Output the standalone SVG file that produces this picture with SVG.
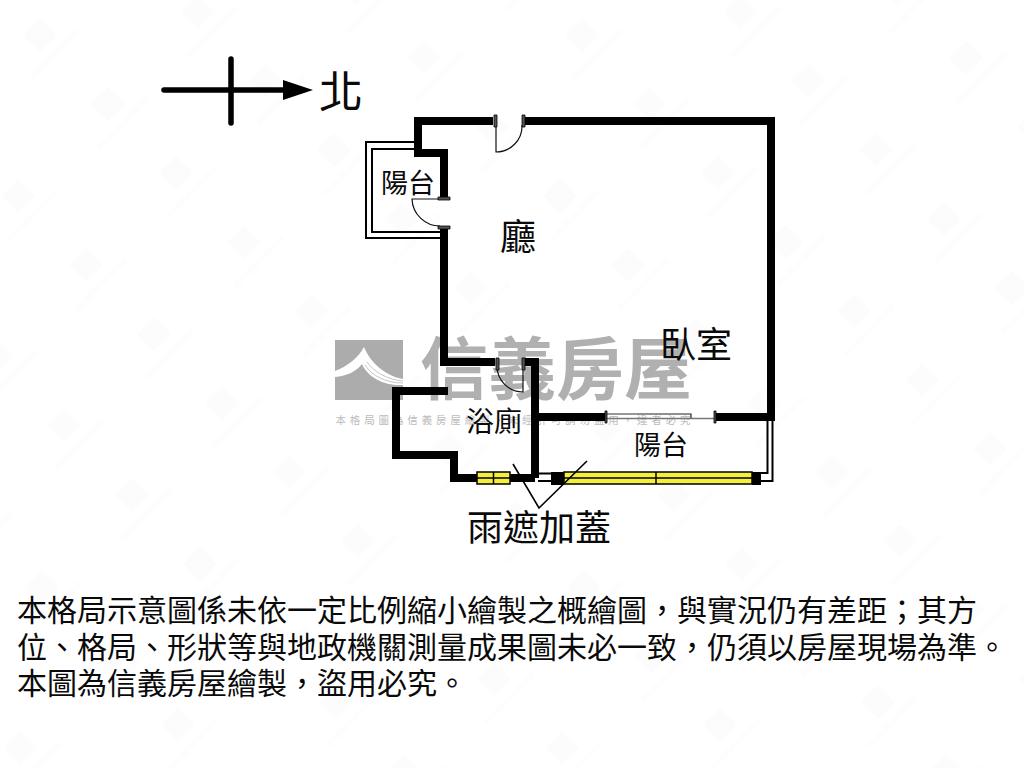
<svg xmlns="http://www.w3.org/2000/svg" width="1024" height="768" viewBox="0 0 1024 768">
<style>
text{font-family:"Noto Sans CJK TC","Noto Sans CJK SC",sans-serif;fill:#0a0a0a;text-anchor:middle}
.wall{fill:none;stroke:#000;stroke-width:8;stroke-linejoin:miter;stroke-linecap:butt}
.thin{fill:none;stroke:#000;stroke-width:2}
.door{fill:none;stroke:#111;stroke-width:1.2}
.jamb{fill:#555;stroke:#000;stroke-width:.8}
.win{fill:#f4ee3c;stroke:#000;stroke-width:1.5}
.para{text-anchor:start;font-size:30px}
</style>
<defs>
<pattern id="wm" x="0" y="0" width="1" height="1" patternUnits="userSpaceOnUse" patternTransform="matrix(158 -23 68 69 -62.8 22.35)">
<g transform="translate(.5 .35) matrix(.005535 .001845 -.005455 .012675 0 0)">
<path d="M0-17 17 0 0 17-17 0Z" fill="#fcfcfc"/>
<path d="M37-7 41-3-7 46-11 42Z" fill="#fdfdfd"/>
</g>
</pattern>
</defs>
<rect width="1024" height="768" fill="#fff"/>
<rect width="1024" height="768" fill="url(#wm)"/>
<g id="watermark">
<rect x="335" y="340" width="68" height="60" fill="#acacac"/>
<path d="M335 371C348 366 358 358 364 347 370 362 385 376 403 379V385C385 386 368 378 362 364 356 372 346 376 335 377Z" fill="#fff"/>
<path d="M367 362C374 372 388 380 403 381M365 365C372 376 386 383 403 383" fill="none" stroke="#acacac" stroke-width=".7"/>
<text x="556" y="394" font-size="68" style="fill:#b0b0b0" font-weight="700" textLength="272" lengthAdjust="spacing">信義房屋</text>
<text x="513" y="424" font-size="10.5" style="fill:#bbb" textLength="355" lengthAdjust="spacing">本格局圖為信義房屋繪製&#xFF0C;未經許可請勿盜用&#xFF0C;違者必究</text>
</g>
<g id="compass">
<path d="M164 90H285M231 59V123" fill="none" stroke="#000" stroke-width="5.500" stroke-linecap="round"/>
<path d="M283 80 313 90 283 100Z" fill="#000"/>
<text x="341" y="108" font-size="44">北</text>
</g>
<g id="balcony-west">
<path class="thin" d="M414 142H366V238H440M414 149H372V232H440"/>
<text x="408" y="193" font-size="27">陽台</text>
</g>
<g id="living-room">
<path class="wall" d="M493 121H418V153H444V198M444 228V362H495M525 121H771V417H715M606 417H535"/>
<path class="wall" d="M448 391H396V455H454V478H535M525 362H535V478"/>
<path d="M606 414H637M606 418.500H715" fill="none" stroke="#777" stroke-width="1.500"/>
<path d="M637 414H691V418" fill="none" stroke="#222" stroke-width="1.200"/>
<text x="518" y="250" font-size="36">廳</text>
<text x="696" y="358" font-size="36">臥室</text>
</g>
<g id="doors">
<path class="door" d="M496 125V152A26 26 0 0 0 522 125M440 199H412A28 28 0 0 0 440 226M523 366V392A26 26 0 0 1 497 366"/>
<path class="jamb" d="M494 115h3v12h-3zM522 115h3v12h-3zM438 197h12v3h-12zM438 226h12v3h-12zM496 358h3v12h-3zM522 358h3v12h-3zM605 411h2v12h-2zM714 411h2v12h-2z"/>
</g>
<g id="bathroom">
<rect class="win" x="477" y="472" width="33" height="12"/>
<path d="M477 478H510M493.500 472V484" stroke="#000" stroke-width="1.500"/>
<text x="494" y="432" font-size="28">浴廁</text>
</g>
<g id="balcony-east">
<path class="thin" d="M538 473.500H551M538 481H551M767.500 420V473H761M772.500 420V481H761"/>
<rect class="win" x="564" y="472" width="188" height="12"/>
<path d="M564 478H752M656 472V484" stroke="#000" stroke-width="1.500"/>
<rect x="551" y="472" width="13" height="13" fill="#000"/>
<rect x="752" y="472" width="9" height="13" fill="#000"/>
<text x="661" y="455" font-size="27">陽台</text>
</g>
<g id="connectors">
<path d="M513 464 539 508 587 461" fill="none" stroke="#000" stroke-width="1.600"/>
</g>
<g id="rain-cover">
<text x="539" y="541" font-size="36">雨遮加蓋</text>
</g>
<g id="note">
<text class="para" x="17" y="621">本格局示意圖係未依一定比例縮小繪製之概繪圖&#xFF0C;與實況仍有差距&#xFF1B;其方</text>
<text class="para" x="17" y="658">位、格局、形狀等與地政機關測量成果圖未必一致&#xFF0C;仍須以房屋現場為準。</text>
<text class="para" x="17" y="694">本圖為信義房屋繪製&#xFF0C;盜用必究。</text>
</g>
</svg>
